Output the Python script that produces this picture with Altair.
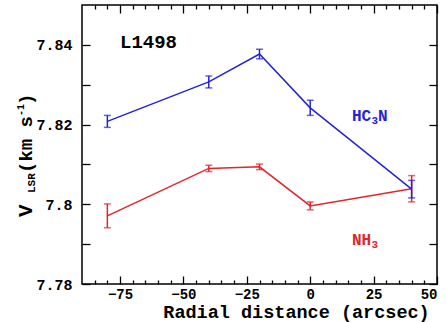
import altair as alt
import pandas as pd

# ---- data ----
x_arcsec = [-80, -40, -20, 0, 40]
hc3n_v = [7.8208, 7.8307, 7.8377, 7.8242, 7.8038]
hc3n_err = [0.0015, 0.0015, 0.0012, 0.0019, 0.0022]
nh3_v = [7.7971, 7.8090, 7.8094, 7.7996, 7.8039]
nh3_err = [0.0030, 0.0008, 0.0007, 0.0010, 0.0033]

x_major = [-75, -50, -25, 0, 25, 50]
x_minor = [v for v in range(-85, 50, 5) if v % 25 != 0]
y_ticks = [7.78, 7.79, 7.80, 7.81, 7.82, 7.83, 7.84]

BLUE = "#2424d4"
RED = "#e0252b"
FONT = "Liberation Mono"

rows = []
for name, vals, errs in [("NH3", nh3_v, nh3_err), ("HC3N", hc3n_v, hc3n_err)]:
    for xi, v, e in zip(x_arcsec, vals, errs):
        rows.append({"series": name, "x": xi, "v": v, "lo": v - e, "hi": v + e})
df = pd.DataFrame(rows)

xs = alt.Scale(domain=[-90, 50], nice=False, zero=False)
ys = alt.Scale(domain=[7.78, 7.85], nice=False, zero=False)
col = alt.Color("series:N", scale=alt.Scale(domain=["HC3N", "NH3"], range=[BLUE, RED]), legend=None)

common_ax = dict(domain=False, grid=False, tickColor="black", tickWidth=1.3,
                 labelFont=FONT, labelFontWeight="bold", labelColor="black",
                 titleFont=FONT, titleFontWeight="bold", titleColor="black")

def tick_axis(orient, values, size):
    return alt.Axis(orient=orient, values=values, tickSize=size, offset=-size,
                    labels=False, title=None, **common_ax)

base = alt.Chart(df)

lines = base.mark_line(strokeWidth=1.5).encode(
    x=alt.X("x:Q", scale=xs, axis=alt.Axis(
        orient="bottom", values=x_major, tickSize=8, offset=-8, labelPadding=3,
        labelFontSize=14, title="Radial distance (arcsec)", titleFontSize=18.5,
        titleX=214, titleY=41, titleBaseline="alphabetic", titleAlign="center",
        **common_ax)),
    y=alt.Y("v:Q", scale=ys, axis=alt.Axis(
        orient="left", values=y_ticks, tickSize=8, offset=-8, labelPadding=10,
        labelFontSize=15,
        labelExpr="(round(datum.value*100) % 2 == 0) ? format(datum.value, '.3~r') : ''",
        title=None, **common_ax)),
    color=col,
)

rules = base.mark_rule(strokeWidth=1.5).encode(
    x=alt.X("x:Q", scale=xs, axis=tick_axis("bottom", x_minor, 4)),
    y=alt.Y("lo:Q", scale=ys, axis=tick_axis("right", y_ticks, 8)),
    y2="hi:Q",
    color=col,
)

caps_lo = base.mark_tick(orient="horizontal", size=7, thickness=1.5).encode(
    x=alt.X("x:Q", scale=xs, axis=tick_axis("top", x_major, 8)),
    y=alt.Y("lo:Q", scale=ys, axis=None),
    color=col,
)

caps_hi = base.mark_tick(orient="horizontal", size=7, thickness=1.5).encode(
    x=alt.X("x:Q", scale=xs, axis=tick_axis("top", x_minor, 4)),
    y=alt.Y("hi:Q", scale=ys, axis=None),
    color=col,
)

# ---- annotation texts ----
def label(text, xpx, ypx, color, size, angle=0, align="left", baseline="middle"):
    d = pd.DataFrame({"t": [text]})
    return alt.Chart(d).mark_text(
        font=FONT, fontWeight="bold", fontSize=size, color=color,
        align=align, baseline=baseline, angle=angle,
    ).encode(text="t:N", x=alt.value(xpx), y=alt.value(ypx))

texts = [
    label("L1498", 38, 37, "black", 19),
    # HC3N with subscript 3
    label("HC", 270, 116, BLUE, 16, baseline="alphabetic"),
    label("3", 289.5, 119, BLUE, 11, baseline="alphabetic"),
    label("N", 296, 116, BLUE, 16, baseline="alphabetic"),
    # NH3 with subscript 3
    label("NH", 270, 240, RED, 16, baseline="alphabetic"),
    label("3", 289.5, 243, RED, 11, baseline="alphabetic"),
    # y-axis title: V_LSR (km s^-1)
    label("V", -50, 212, "black", 21, angle=270, baseline="alphabetic"),
    label("LSR", -47, 188, "black", 11, angle=270, baseline="alphabetic"),
    label("(km s", -50, 168, "black", 19, angle=270, baseline="alphabetic"),
    label("-1", -58, 111, "black", 10, angle=270, baseline="alphabetic"),
    label(")", -50, 100, "black", 19, angle=270, baseline="alphabetic"),
]

chart = alt.layer(rules, caps_lo, caps_hi, lines, *texts).resolve_axis(
    x="independent", y="independent"
).properties(
    width=355, height=279,
    autosize=alt.AutoSizeParams(type="none"),
    padding={"left": 82, "top": 5, "right": 10, "bottom": 38},
    background="white",
).configure_view(stroke="black", strokeWidth=1.5)

chart.save("out.html", embed_options={"renderer": "svg", "actions": False})
